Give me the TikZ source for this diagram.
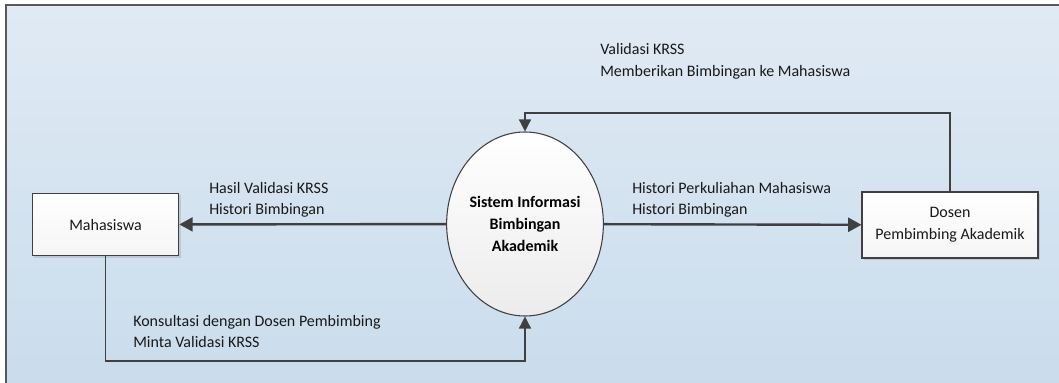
\documentclass[tikz,border=0pt]{standalone}
\usepackage{fontspec}
\setmainfont{Carlito}
\usepackage{tikz}
\usetikzlibrary{arrows.meta,positioning,shapes,shadows,calc}

\definecolor{bgtop}{HTML}{E0EAF4}
\definecolor{bgbot}{HTML}{C9DCEC}
\definecolor{linegray}{HTML}{404040}

\begin{document}
\begin{tikzpicture}[x=0.75pt,y=-0.75pt,
	font=\fontsize{12}{16.5}\selectfont,
	entity node/.style={rectangle,draw=linegray,line width=0.8pt,
		top color=white,bottom color=gray!8,
		drop shadow={shadow xshift=1.5pt,shadow yshift=-1.5pt,opacity=0.25},
		align=center,text=black!90},
	process node/.style={ellipse,draw=linegray,line width=0.8pt,
		top color=white,bottom color=gray!15,inner sep=0pt,
		minimum width=113pt,minimum height=138pt,align=center,
		font=\fontsize{12}{16.5}\selectfont\bfseries},
	flow label/.style={align=left,anchor=west,inner sep=0pt,text=black!90},
	main flow/.style={draw=linegray,line width=1.8pt,
		-{Triangle[length=10pt,width=10.5pt]}},
	side flow/.style={draw=linegray,line width=1.1pt,
		-{Triangle[length=9pt,width=9pt]}}]

    \useasboundingbox (0,0) rectangle (1059,382);
    \clip (0,0) rectangle (1059,382);
    % background frame
    \path[top color=bgtop,bottom color=bgbot,draw=gray!70!black,line width=1.1pt]
	(6,5) rectangle (1070,395);

    \node[process node] (sia) at (525,224) {Sistem Informasi\\Bimbingan\\Akademik};
    \node[entity node,minimum width=110pt,minimum height=47pt] (mhs) at (105.5,224.5) {Mahasiswa};
    \node[entity node,minimum width=132pt,minimum height=49.5pt] (dos) at (950,225) {Dosen\\Pembimbing Akademik};

    \coordinate (top) at (525,113);
    \coordinate (bot) at (525,361);

    \path[main flow] (sia) -- (mhs);
    \path[main flow] (sia) -- (dos);
    \path[side flow] (dos.north) |- (top) -- (sia.north);
    \path[side flow] (mhs.south) |- (bot) -- (sia.south);

    \node[flow label] (l1) at (600,49) {Validasi KRSS};
    \node[flow label] (l2) at (600,72) {Memberikan Bimbingan ke Mahasiswa};
    \node[flow label] (l3) at (209,188) {Hasil Validasi KRSS};
    \node[flow label] (l4) at (209,210) {Histori Bimbingan};
    \node[flow label] (l5) at (632,188) {Histori Perkuliahan Mahasiswa};
    \node[flow label] (l6) at (632,210) {Histori Bimbingan};
    \node[flow label] (l7) at (133,322) {Konsultasi dengan Dosen Pembimbing};
    \node[flow label] (l8) at (133,342) {Minta Validasi KRSS};

\end{tikzpicture}
\end{document}
